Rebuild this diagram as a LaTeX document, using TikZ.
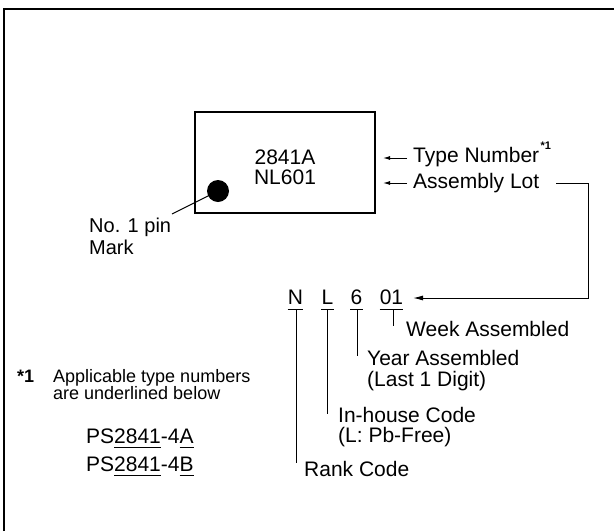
\documentclass[tikz,border=0pt]{standalone}
\usepackage{fontspec}
\setmainfont{Liberation Sans}
\usetikzlibrary{arrows.meta}
\newcommand\myul[1]{\setbox0\hbox{#1}\rlap{\rule[-4.5pt]{\wd0}{1pt}}\box0}
\begin{document}
\begin{tikzpicture}[x=1pt,y=-1pt,
  lbl/.style={anchor=base west,inner sep=0pt,font=\fontsize{21}{20}\selectfont},
  code/.style={anchor=base,inner sep=0pt,font=\fontsize{21}{20}\selectfont},
  note/.style={anchor=base west,inner sep=0pt,text height=13pt,text depth=3pt,font=\fontsize{18}{17}\selectfont},
  thin/.style={line width=1pt},
  arr/.style={line width=1pt,-{Latex[length=7pt,width=4pt]}},
  bigarr/.style={line width=1pt,-{Latex[length=10pt,width=5pt]}}]
\useasboundingbox (0,0) rectangle (614,531);
% outer frame
\draw[line width=1.6pt] (4,531) -- (4,9) -- (614,9);
% chip
\draw[line width=2pt] (195,112) rectangle (375,213);
\node[code] (t1) at (285,164.5) {2841A};
\node[code] (t2) at (285,184.5) {NL601};
\fill (218,191) circle (11) node (dot) {};
\coordinate (pinend) at (172,214);
\draw[thin] (dot.center) -- (pinend);
\node[lbl,font=\fontsize{20}{20}\selectfont] (pin1) at (89,232) {No. 1 pin};
\node[lbl,font=\fontsize{20}{20}\selectfont] (pin2) at (89,254) {Mark};
% right labels
\node[lbl] (tn) at (413,162.5) {Type Number};
\node[anchor=base west,inner sep=0pt,font=\bfseries\fontsize{11}{11}\selectfont] (sup) at ([xshift=1pt,yshift=13.5pt]tn.base east) {*1};
\node[lbl] (al) at (413,188.5) {Assembly Lot};
\coordinate (a1s) at (407,158);
\coordinate (a1e) at (383,158);
\coordinate (a2s) at (407,183);
\coordinate (a2e) at (383,183);
\draw[arr] (a1s) -- (a1e);
\draw[arr] (a2s) -- (a2e);
% code
\node[code] (cN) at (295.5,304.5) {N};
\node[code] (cL) at (327.5,304.5) {L};
\node[code] (c6) at (356.5,304.5) {6};
\node[code] (c01) at (391.5,304.5) {01};
\coordinate (lotstart) at (556,183);
\coordinate (corner1) at (588,183);
\coordinate (corner2) at (588,298);
\coordinate (tip) at (413,298);
\draw[bigarr] (lotstart) -- (corner1) -- (corner2) -- (tip);
\foreach \n in {cN,cL,c6,c01}{
  \draw[thin] ([yshift=-4.5pt]\n.base west) -- ([yshift=-4.5pt]\n.base east);
}
\node[lbl] (wk) at (406,336.5) {Week Assembled};
\node[lbl] (yr1) at (367,365.5) {Year Assembled};
\node[lbl] (yr2) at (367,386.5) {(Last 1 Digit)};
\node[lbl] (ih1) at (338,422.5) {In-house Code};
\node[lbl] (ih2) at (338,442.5) {(L: Pb-Free)};
\node[lbl] (rk) at (304,476.5) {Rank Code};
\draw[thin] ([yshift=-4.5pt]c01.base) ++(1.5,0) -- ++(0,17);
\draw[thin] ([yshift=-4.5pt]c6.base) ++(0.5,0) -- ++(0,47);
\draw[thin] ([yshift=-4.5pt]cL.base) ++(-0.5,0) -- ++(0,105);
\draw[thin] ([yshift=-4.5pt]cN.base) ++(0.5,0) -- ++(0,154);
% note
\node[note,font=\bfseries\fontsize{18}{17}\selectfont] (star) at (17,382) {*1};
\node[note] (n1) at (53,382) {Applicable type numbers};
\node[note] (n2) at (53,399) {are underlined below};
\node[lbl] (ps1) at (86,443) {PS\myul{2841}-4\myul{A}};
\node[lbl] (ps2) at (86,471.5) {PS\myul{2841}-4\myul{B}};
\end{tikzpicture}
\end{document}
